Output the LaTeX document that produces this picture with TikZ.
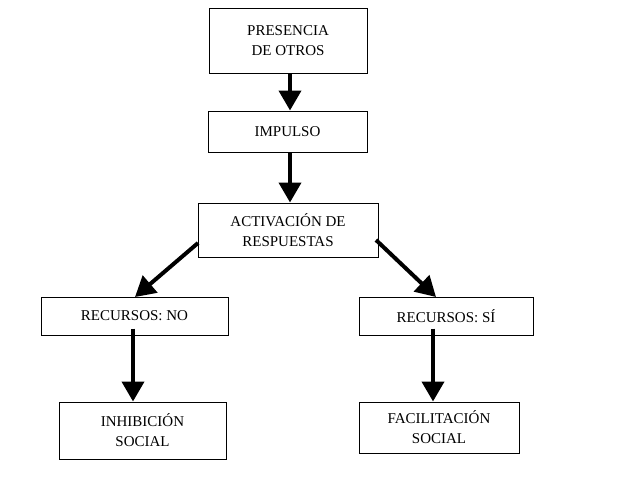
\documentclass[tikz,border=0pt]{standalone}
\usepackage{fontspec}
\setmainfont{Liberation Serif}
\usetikzlibrary{arrows.meta}
\begin{document}
\begin{tikzpicture}[x=1pt,y=-1pt,
  box/.style={draw,line width=1pt,inner sep=0pt,align=center,font=\fontsize{15}{20}\selectfont},
  arr/.style={line width=4pt,-{Triangle[length=20pt,width=22pt]}}]
\useasboundingbox (0,0) rectangle (623,490);
\node[box,minimum width=158pt,minimum height=65pt] (p) at (288,40.5) {PRESENCIA\\DE OTROS};
\node[box,minimum width=159pt,minimum height=41pt] (i) at (287.5,131.5) {IMPULSO};
\node[box,minimum width=180pt,minimum height=54pt] (a) at (288,230) {ACTIVACIÓN DE\\RESPUESTAS};
\node[box,minimum width=187pt,minimum height=38pt] (n) at (134.5,316) {RECURSOS: NO};
\node[box,minimum width=174pt,minimum height=38pt] (s) at (446,316) {RECURSOS: SÍ};
\node[box,minimum width=167pt,minimum height=57pt] (h) at (142.5,430.5) {INHIBICIÓN\\SOCIAL};
\node[box,minimum width=160pt,minimum height=51pt] (f) at (439,427.5) {FACILITACIÓN\\SOCIAL};
\coordinate (a1) at (198,243);
\coordinate (a2) at (376,240);
\draw[arr] (p.south -| 290,0) -- (i.north -| 290,0);
\draw[arr] (i.south -| 290,0) -- (a.north -| 290,0);
\draw[arr] (a1) -- (135,297);
\draw[arr] (a2) -- (436,297);
\draw[arr] ([yshift=7pt]n.south -| 133,0) -- (h.north -| 133,0);
\draw[arr] ([yshift=7pt]s.south -| 433,0) -- (f.north -| 433,0);
\end{tikzpicture}
\end{document}
